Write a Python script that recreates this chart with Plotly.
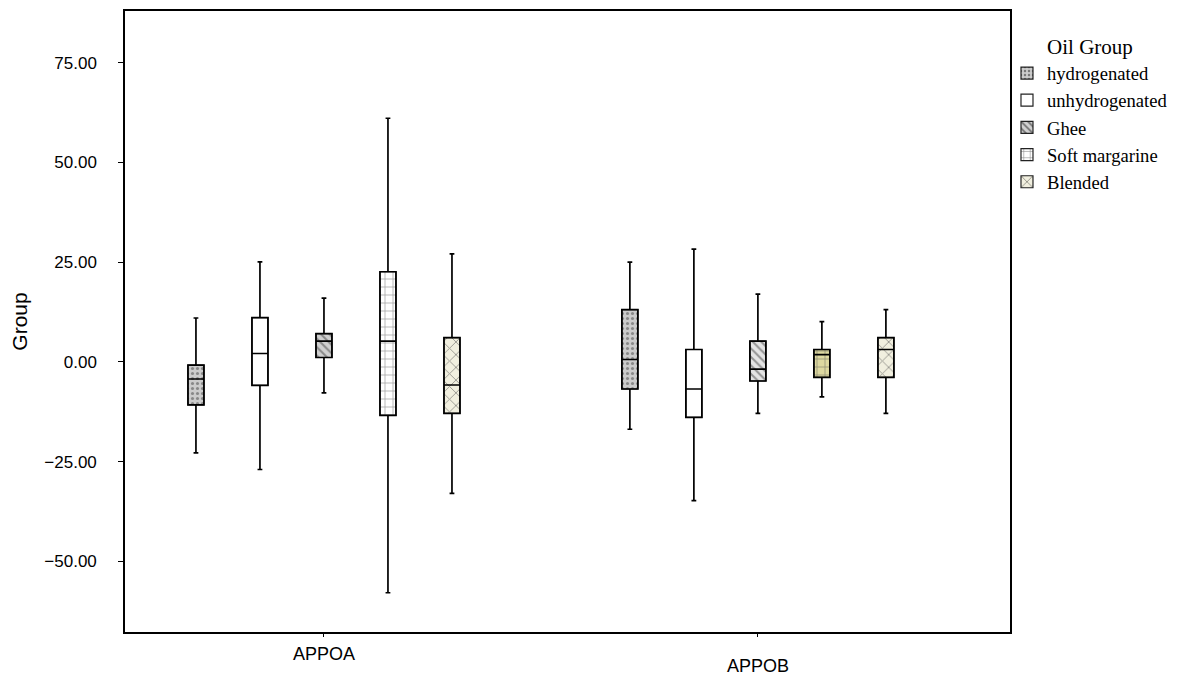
import plotly.graph_objects as go

categories = ["APPOA", "APPOB"]
groups = ["hydrogenated", "unhydrogenated", "Ghee", "Soft margarine", "Blended"]

lower = {
    "hydrogenated": [-22.8, -16.9],
    "unhydrogenated": [-27.0, -34.8],
    "Ghee": [-7.8, -12.9],
    "Soft margarine": [-57.9, -8.8],
    "Blended": [-33.0, -12.9],
}
q1 = {
    "hydrogenated": [-10.8, -6.8],
    "unhydrogenated": [-5.9, -13.9],
    "Ghee": [1.1, -4.8],
    "Soft margarine": [-13.4, -3.9],
    "Blended": [-12.9, -3.9],
}
median = {
    "hydrogenated": [-4.3, 0.6],
    "unhydrogenated": [2.1, -6.8],
    "Ghee": [5.2, -1.8],
    "Soft margarine": [5.2, 1.8],
    "Blended": [-5.8, 3.1],
}
q3 = {
    "hydrogenated": [-0.8, 13.1],
    "unhydrogenated": [11.1, 3.1],
    "Ghee": [7.1, 5.2],
    "Soft margarine": [22.6, 3.1],
    "Blended": [6.1, 6.1],
}
upper = {
    "hydrogenated": [11.0, 25.0],
    "unhydrogenated": [25.1, 28.3],
    "Ghee": [16.0, 17.0],
    "Soft margarine": [61.1, 10.1],
    "Blended": [27.1, 13.1],
}

ytick_vals = [-50, -25, 0, 25, 50, 75]
label_shift = {"APPOA": -22, "APPOB": -34}

style = {
    "hydrogenated": dict(bg=["#cccccc", "#cccccc"], shape=".", fg="#222222", size=5, sol=0.3),
    "unhydrogenated": dict(bg=["#ffffff", "#ffffff"], shape="", fg="#000000", size=6, sol=0.2),
    "Ghee": dict(bg=["#d0d0d0", "#e4e4e4"], shape="\\", fg="#111111", size=6, sol=0.35),
    "Soft margarine": dict(bg=["#ffffff", "#ddd8a0"], shape="+", fg="#222222", size=8, sol=0.18),
    "Blended": dict(bg=["#f1efdf", "#f1efdf"], shape="x", fg="#111111", size=9, sol=0.2),
}

fig = go.Figure()

for g in groups:
    s = style[g]
    heights = [b - a for a, b in zip(q1[g], q3[g])]
    fig.add_trace(go.Bar(
        name=g,
        x=categories,
        y=heights,
        base=q1[g],
        marker=dict(
            color=s["bg"],
            line=dict(color="#222222", width=1.2),
            pattern=dict(shape=s["shape"], fgcolor=s["fg"], bgcolor=s["bg"],
                         size=s["size"], solidity=s["sol"], fillmode="overlay"),
        ),
        showlegend=True,
        hoverinfo="skip",
    ))

for g in groups:
    fig.add_trace(go.Box(
        name=g,
        x=categories,
        q1=q1[g],
        median=median[g],
        q3=q3[g],
        lowerfence=lower[g],
        upperfence=upper[g],
        fillcolor="rgba(0,0,0,0)",
        line=dict(color="#000000", width=1.7),
        whiskerwidth=0.3,
        showlegend=False,
    ))

# category labels below the frame (SPSS style, staggered)
for cat in categories:
    fig.add_annotation(
        x=cat, xref="x", y=0, yref="paper",
        yanchor="middle", yshift=label_shift[cat],
        text=cat, showarrow=False,
        font=dict(family="Liberation Sans, Arial", size=18, color="#000000"),
    )

fig.update_layout(
    width=1181,
    height=677,
    paper_bgcolor="white",
    plot_bgcolor="white",
    margin=dict(l=117, r=179, t=1, b=53),
    barmode="group",
    bargap=0.2625,
    bargroupgap=0.75,
    boxmode="group",
    boxgap=0.2625,
    boxgroupgap=0.75,
    font=dict(family="Liberation Sans, Arial", size=17, color="#000000"),
    legend=dict(
        x=0.9966, y=0.974, xanchor="left", yanchor="top",
        title=dict(text="Oil Group", side="top center",
                   font=dict(family="Liberation Serif, Times New Roman", size=21)),
        font=dict(family="Liberation Serif, Times New Roman", size=18.6),
        tracegroupgap=0,
        itemwidth=30,
        bgcolor="rgba(0,0,0,0)",
    ),
    xaxis=dict(
        type="category",
        range=[-0.4585, 1.581],
        tickvals=categories,
        showticklabels=False,
        ticks="outside", ticklen=3, tickcolor="#000000",
        showline=True, linecolor="#000000", linewidth=1.5, mirror=True,
        showgrid=False, zeroline=False,
    ),
    yaxis=dict(
        range=[-67.75, 88],
        tickvals=ytick_vals,
        tickformat=".2f",
        ticks="outside", ticklen=5, tickcolor="#000000",
        ticklabelstandoff=18,
        showline=True, linecolor="#000000", linewidth=1.5, mirror=True,
        showgrid=False, zeroline=False,
        title=dict(text="Group", font=dict(size=21), standoff=20),
        tickfont=dict(size=17),
    ),
)

fig.write_html("out.html")
